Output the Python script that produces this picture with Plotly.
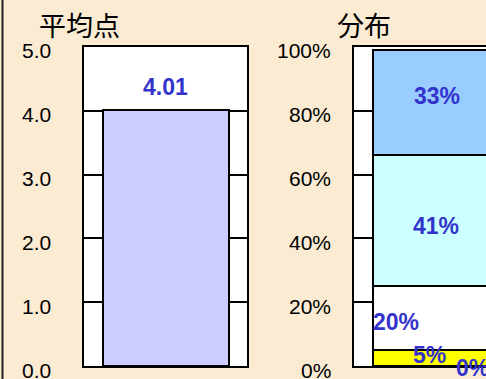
import plotly.graph_objects as go

# ---- data ----
avg_label = "平均点"
avg_score = 4.01
avg_ticks = [0, 1, 2, 3, 4, 5]

dist_label = "分布"
dist_values = [0, 5, 20, 41, 33]          # bottom -> top, percent
dist_colors = ["#FF9900", "#FFFF00", "#FFFFFF", "#CCFFFF", "#99CCFF"]
dist_ticks = [0, 20, 40, 60, 80, 100]

# ---- styling ----
W, H = 486, 379
BG = "#FAEBD2"
LABEL_COLOR = "#3333CC"
TICK_FONT = dict(family="Liberation Sans, Arial, sans-serif", size=21, color="#000000")
LABEL_FONT = dict(family="Liberation Sans, Arial, sans-serif", size=23, color=LABEL_COLOR)
TITLE_FONT = dict(family="Noto Sans CJK JP, sans-serif", size=27, color="#000000")
BAR_W = 0.773
# horizontal placement of the distribution labels (axis units) and pixel nudges
dist_label_x = [0.23, -0.034, -0.242, 0.0, 0.01]
dist_label_dy = [-2, 3, -4, -5, 7]

y_dom = [13 / H, 332 / H]
x1_dom = [84 / W, 247 / W]
x2_dom = [354 / W, 1.0]
x2_range = [-0.5, -0.5 + (W - 354) / (247 - 84)]

fig = go.Figure()

fig.add_trace(go.Bar(
    x=[0], y=[avg_score], width=BAR_W,
    marker=dict(color="#CCCCFF", line=dict(color="#000000", width=2)),
    xaxis="x", yaxis="y", hoverinfo="skip", showlegend=False,
))

for v, c in zip(dist_values, dist_colors):
    fig.add_trace(go.Bar(
        x=[0], y=[v], width=BAR_W,
        marker=dict(color=c, line=dict(color="#000000", width=2)),
        xaxis="x2", yaxis="y2", hoverinfo="skip", showlegend=False,
    ))

annotations = []
annotations.append(dict(
    x=0, y=avg_score, xref="x", yref="y", text=f"<b>{avg_score:.2f}</b>",
    showarrow=False, yanchor="middle", yshift=23, font=LABEL_FONT,
))

base = 0
for i, v in enumerate(dist_values):
    annotations.append(dict(
        x=dist_label_x[i], y=base + v / 2, xref="x2", yref="y2",
        text=f"<b>{v}%</b>", showarrow=False, yanchor="middle",
        yshift=dist_label_dy[i], font=LABEL_FONT,
    ))
    base += v

# axis tick labels, set a little below their tick marks
for v in avg_ticks:
    annotations.append(dict(
        x=0, xref="x domain", y=v, yref="y", text=f"{v:.1f}",
        showarrow=False, xanchor="right", yanchor="middle",
        xshift=-31, yshift=-4, font=TICK_FONT,
    ))
for v in dist_ticks:
    annotations.append(dict(
        x=0, xref="x2 domain", y=v, yref="y2", text=f"{v}%",
        showarrow=False, xanchor="right", yanchor="middle",
        xshift=-21, yshift=-4, font=TICK_FONT,
    ))

annotations.append(dict(x=79 / W, y=1 - 24 / H, xref="paper", yref="paper",
                        text=avg_label, showarrow=False, font=TITLE_FONT,
                        xanchor="center", yanchor="middle"))
annotations.append(dict(x=364 / W, y=1 - 24 / H, xref="paper", yref="paper",
                        text=dist_label, showarrow=False, font=TITLE_FONT,
                        xanchor="center", yanchor="middle"))

axis_line = dict(showline=True, linecolor="#000000", linewidth=2,
                 showgrid=False, zeroline=False, automargin=False,
                 fixedrange=True)

fig.update_layout(
    width=W, height=H,
    margin=dict(l=0, r=0, t=0, b=0, pad=0),
    paper_bgcolor=BG, plot_bgcolor="#FFFFFF",
    barmode="stack", bargap=0,
    annotations=annotations,
    xaxis=dict(domain=x1_dom, range=[-0.5, 0.5], showticklabels=False,
               ticks="", mirror=True, **axis_line),
    yaxis=dict(domain=y_dom, range=[0, 5], tickmode="array", tickvals=avg_ticks,
               showticklabels=False,
               ticks="inside", ticklen=18, tickwidth=2, tickcolor="#000000",
               mirror="ticks", **axis_line),
    xaxis2=dict(domain=x2_dom, range=x2_range, showticklabels=False,
                ticks="", mirror=True, anchor="y2", **axis_line),
    yaxis2=dict(domain=y_dom, range=[0, 100], tickmode="array", tickvals=dist_ticks,
                showticklabels=False,
                ticks="inside", ticklen=18, tickwidth=2, tickcolor="#000000",
                mirror=False, anchor="x2", **axis_line),
    shapes=[dict(type="line", xref="paper", yref="paper",
                 x0=2.5 / W, x1=2.5 / W, y0=0, y1=1,
                 line=dict(color="#222222", width=2))],
)

fig.write_html("out.html", config={"displayModeBar": False})
